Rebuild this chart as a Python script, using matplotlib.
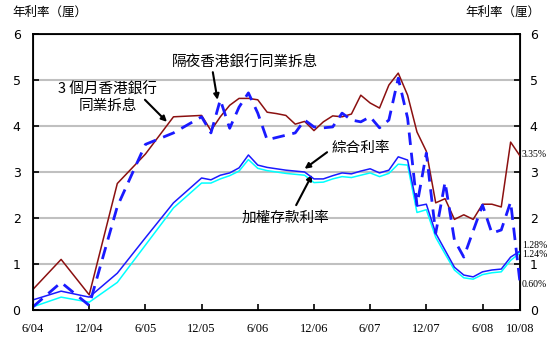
import numpy as np
import matplotlib
matplotlib.use('Agg')
import matplotlib.pyplot as plt

plt.rcParams['font.family'] = ['Noto Sans CJK TC', 'DejaVu Sans']

# Meses contados a partir de 6/04 (trimestral até 12/05, depois mensal)
meses = [0, 3, 6, 9, 12, 15] + list(range(18, 53))

hibor_3m = [0.45, 1.1, 0.33, 2.75, 3.39, 4.2,
            4.23, 3.9, 4.2, 4.45, 4.6, 4.6, 4.57, 4.3, 4.27, 4.23, 4.04, 4.1,
            3.9, 4.09, 4.22, 4.2, 4.26, 4.67, 4.5, 4.39, 4.89, 5.15, 4.67, 3.87,
            3.45, 2.33, 2.42, 1.97, 2.07, 1.97, 2.3, 2.3, 2.24, 3.65, 3.35]

hibor_overnight = [0.07, 0.6, 0.1, 2.25, 3.6, 3.85,
                   4.2, 3.85, 4.57, 3.95, 4.41, 4.72, 4.28, 3.7, 3.75, 3.8, 3.85, 4.13,
                   3.98, 3.96, 3.98, 4.28, 4.13, 4.09, 4.2, 3.96, 4.13, 5.04, 4.17, 2.28,
                   3.41, 1.67, 2.78, 1.52, 1.15, 1.72, 2.28, 1.67, 1.74, 2.35, 0.6]

composta = [0.22, 0.41, 0.28, 0.8, 1.57, 2.33,
            2.87, 2.83, 2.93, 2.98, 3.09, 3.37, 3.15, 3.1, 3.07, 3.04, 3.02, 3.0,
            2.85, 2.85, 2.92, 2.98, 2.96, 3.02, 3.07, 2.98, 3.04, 3.33, 3.26, 2.26,
            2.3, 1.67, 1.3, 0.93, 0.76, 0.72, 0.83, 0.87, 0.89, 1.15, 1.28]

deposito = [0.07, 0.28, 0.17, 0.6, 1.41, 2.22,
            2.76, 2.76, 2.85, 2.92, 3.02, 3.27, 3.08, 3.03, 3.0, 2.97, 2.95, 2.93,
            2.77, 2.78, 2.85, 2.9, 2.88, 2.93, 2.98, 2.9, 2.97, 3.17, 3.15, 2.12,
            2.18, 1.58, 1.22, 0.87, 0.7, 0.67, 0.77, 0.81, 0.83, 1.08, 1.24]

pos_ticks = [0, 6, 12, 18, 24, 30, 36, 42, 48, 52]
rotulos_x = ['6/04', '12/04', '6/05', '12/05', '6/06', '12/06', '6/07', '12/07', '6/08', '10/08']

fig = plt.figure(figsize=(5.54, 3.40), dpi=100)
ax = fig.add_axes([0.0596, 0.0882, 0.879, 0.8118])

# Linhas de grade
for v in range(1, 6):
    ax.axhline(v, color='#c0c0c0', lw=1.5, zorder=1)

ax.plot(meses, deposito, color='#00ffff', lw=1.1, zorder=3)
ax.plot(meses, composta, color='#1a1aff', lw=1.1, zorder=4)
ax.plot(meses, hibor_3m, color='#8b1010', lw=1.1, zorder=5)
ax.plot(meses, hibor_overnight, color='#1a1aff', lw=2.0, dashes=(4.5, 2.8), zorder=6)

ax.set_xlim(0, 52)
ax.set_ylim(0, 6)
ax.set_xticks(pos_ticks)
ax.set_xticklabels(rotulos_x, family='Liberation Serif', fontsize=9)
ax.set_yticks(range(0, 7))
ax.set_yticklabels([str(i) for i in range(7)], family='DejaVu Sans', fontsize=9)
ax.tick_params(axis='x', direction='in', length=4, width=1.2, pad=9)
ax.tick_params(axis='y', direction='in', length=4, width=1.2, pad=9)
for s in ax.spines.values():
    s.set_linewidth(1.3)

# Eixo da direita
ax2 = ax.twinx()
ax2.set_ylim(0, 6)
ax2.set_yticks(range(0, 7))
ax2.set_yticklabels([str(i) for i in range(7)], family='DejaVu Sans', fontsize=9)
ax2.tick_params(axis='y', direction='in', length=4, width=1.2, pad=7)

# Títulos dos eixos
fig.text(0.022, 0.965, '年利率（厘）', fontsize=9, va='center', ha='left')
fig.text(0.975, 0.965, '年利率（厘）', fontsize=9, va='center', ha='right')

# Valores finais
rot = dict(family='Liberation Serif', fontsize=7, va='center', ha='left', clip_on=False)
ax.text(52.2, 3.35 + 0.03, '3.35%', **rot)
ax.text(52.2, 1.28 + 0.12, '1.28%', **rot)
ax.text(52.2, 1.24 - 0.04, '1.24%', **rot)
ax.text(52.2, 0.6 - 0.05, '0.60%', **rot)

# Anotações com setas
seta = dict(arrowstyle='-|>', color='black', lw=1.5, mutation_scale=8,
            shrinkA=0, shrinkB=0)
ax.text(8.0, 4.62, '3 個月香港銀行\n同業拆息', fontsize=10.5, ha='center', va='center',
        linespacing=1.15)
ax.annotate('', xy=(14.3, 4.09), xytext=(11.95, 4.57), arrowprops=seta)

ax.text(22.6, 5.39, '隔夜香港銀行同業拆息', fontsize=10.5, ha='center', va='center')
ax.annotate('', xy=(19.7, 4.57), xytext=(19.2, 5.17), arrowprops=seta)

ax.text(31.9, 3.52, '綜合利率', fontsize=10.5, ha='left', va='center')
ax.annotate('', xy=(29.0, 3.07), xytext=(31.4, 3.43), arrowprops=seta)

ax.text(27.0, 2.0, '加權存款利率', fontsize=10.5, ha='center', va='center')
ax.annotate('', xy=(29.8, 2.94), xytext=(28.1, 2.28), arrowprops=seta)

plt.savefig('out.png', dpi=100)
